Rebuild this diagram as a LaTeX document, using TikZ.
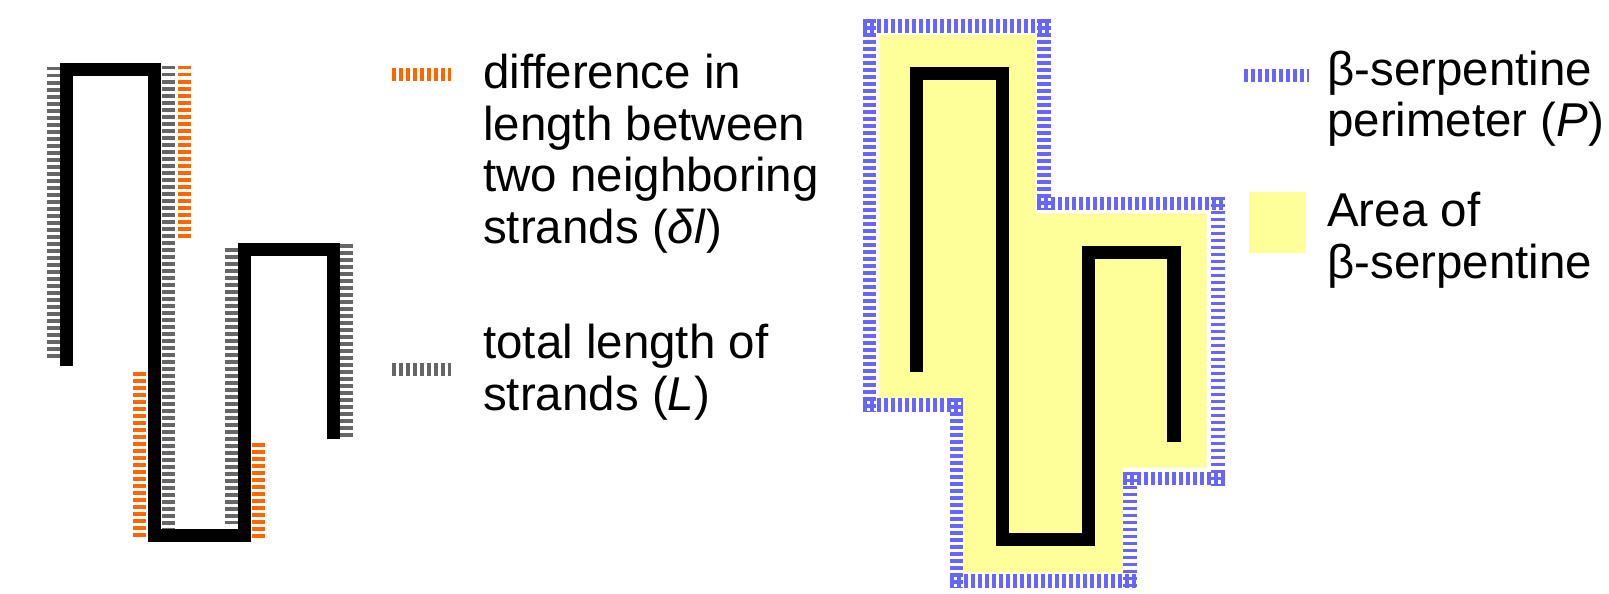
\documentclass[tikz,border=0pt]{standalone}
\usepackage{fontspec}
\setmainfont{Liberation Sans}
\definecolor{hgray}{HTML}{666666}
\definecolor{horange}{HTML}{FF6600}
\definecolor{hblue}{HTML}{6666FF}
\definecolor{hyellow}{HTML}{FFFF99}
\tikzset{
  strand/.style={line width=13.3pt, line join=miter, line cap=butt, draw=black},
  hatch/.style={line width=13pt, line cap=butt, dash pattern=on 3.5pt off 3.5pt},
  grayhatch/.style={hatch, draw=hgray},
  orangehatch/.style={hatch, draw=horange},
  bluehatch/.style={hatch, line width=13.4pt, draw=hblue},
  legtext/.style={anchor=base west, inner sep=0pt, font=\fontsize{47.5}{52}\selectfont}
}
\begin{document}
\begin{tikzpicture}[x=1pt,y=-1pt]
\useasboundingbox (0,0) rectangle (1609,594);

% ---------- left serpentine ----------
\draw[grayhatch] (53,67) -- (53,360);
\draw[grayhatch] (168.5,66) -- (168.5,533);
\draw[grayhatch] (231,248) -- (231,524);
\draw[grayhatch] (346,244) -- (346,438);
\draw[orangehatch] (184.3,66) -- (184.3,240);
\draw[orangehatch] (139.3,372) -- (139.3,538);
\draw[orangehatch] (258,443) -- (258,540);
\draw[strand] (66.5,366) -- (66.5,69.5) -- (154.3,69.5) -- (154.3,535.3)
  -- (244.3,535.3) -- (244.3,249.2) -- (333.8,249.2) -- (333.8,439);

% legend (left)
\draw[orangehatch] (392,75) -- (451,75);
\draw[grayhatch] (392,369) -- (451,369);
\node[legtext] (d1) at (483,88.3) {difference in};
\node[legtext] (d2) at (483,140) {length between};
\node[legtext] (d3) at (483,191.7) {two neighboring};
\node[legtext] (d4) at (483,243.4) {strands (\textit{δl})};
\node[legtext] (t1) at (483,358) {total length of};
\node[legtext] (t2) at (483,410) {strands (\textit{L})};

% ---------- right serpentine ----------
\fill[hyellow] (880,35) -- (1035,35) -- (1035,213.3) -- (1206.7,213.3)
  -- (1206.7,467.7) -- (1122.7,467.7) -- (1122.7,572.3) -- (963.3,572.3)
  -- (963.3,397.7) -- (879.3,397.7) -- cycle;
\draw[bluehatch] (863,26) -- (1050.7,26);
\draw[bluehatch] (1044,19.3) -- (1044,210);
\draw[bluehatch] (1037.3,203.3) -- (1224.7,203.3);
\draw[bluehatch] (1218,196.6) -- (1218,485.7);
\draw[bluehatch] (1123.3,478.5) -- (1224.7,478.5);
\draw[bluehatch] (1130,471.8) -- (1130,587.7);
\draw[bluehatch] (950,581) -- (1136.7,581);
\draw[bluehatch] (956.7,398.3) -- (956.7,587.7);
\draw[bluehatch] (863,405) -- (963.4,405);
\draw[bluehatch] (869.7,19.3) -- (869.7,411.7);
\draw[strand] (916.7,372.3) -- (916.7,73.3) -- (1002.3,73.3) -- (1002.3,539.2)
  -- (1088.3,539.2) -- (1088.3,252.7) -- (1174,252.7) -- (1174,442.3);

% legend (right)
\draw[bluehatch] (1244,75.7) -- (1309,75.7);
\fill[hyellow] (1249,191.7) rectangle (1306,253);
\node[legtext] (p1) at (1327,85) {β-serpentine};
\node[legtext] (p2) at (1327,136.7) {perimeter (\textit{P})};
\node[legtext] (a1) at (1327,226.7) {Area of};
\node[legtext] (a2) at (1327,278.3) {β-serpentine};
\end{tikzpicture}
\end{document}
